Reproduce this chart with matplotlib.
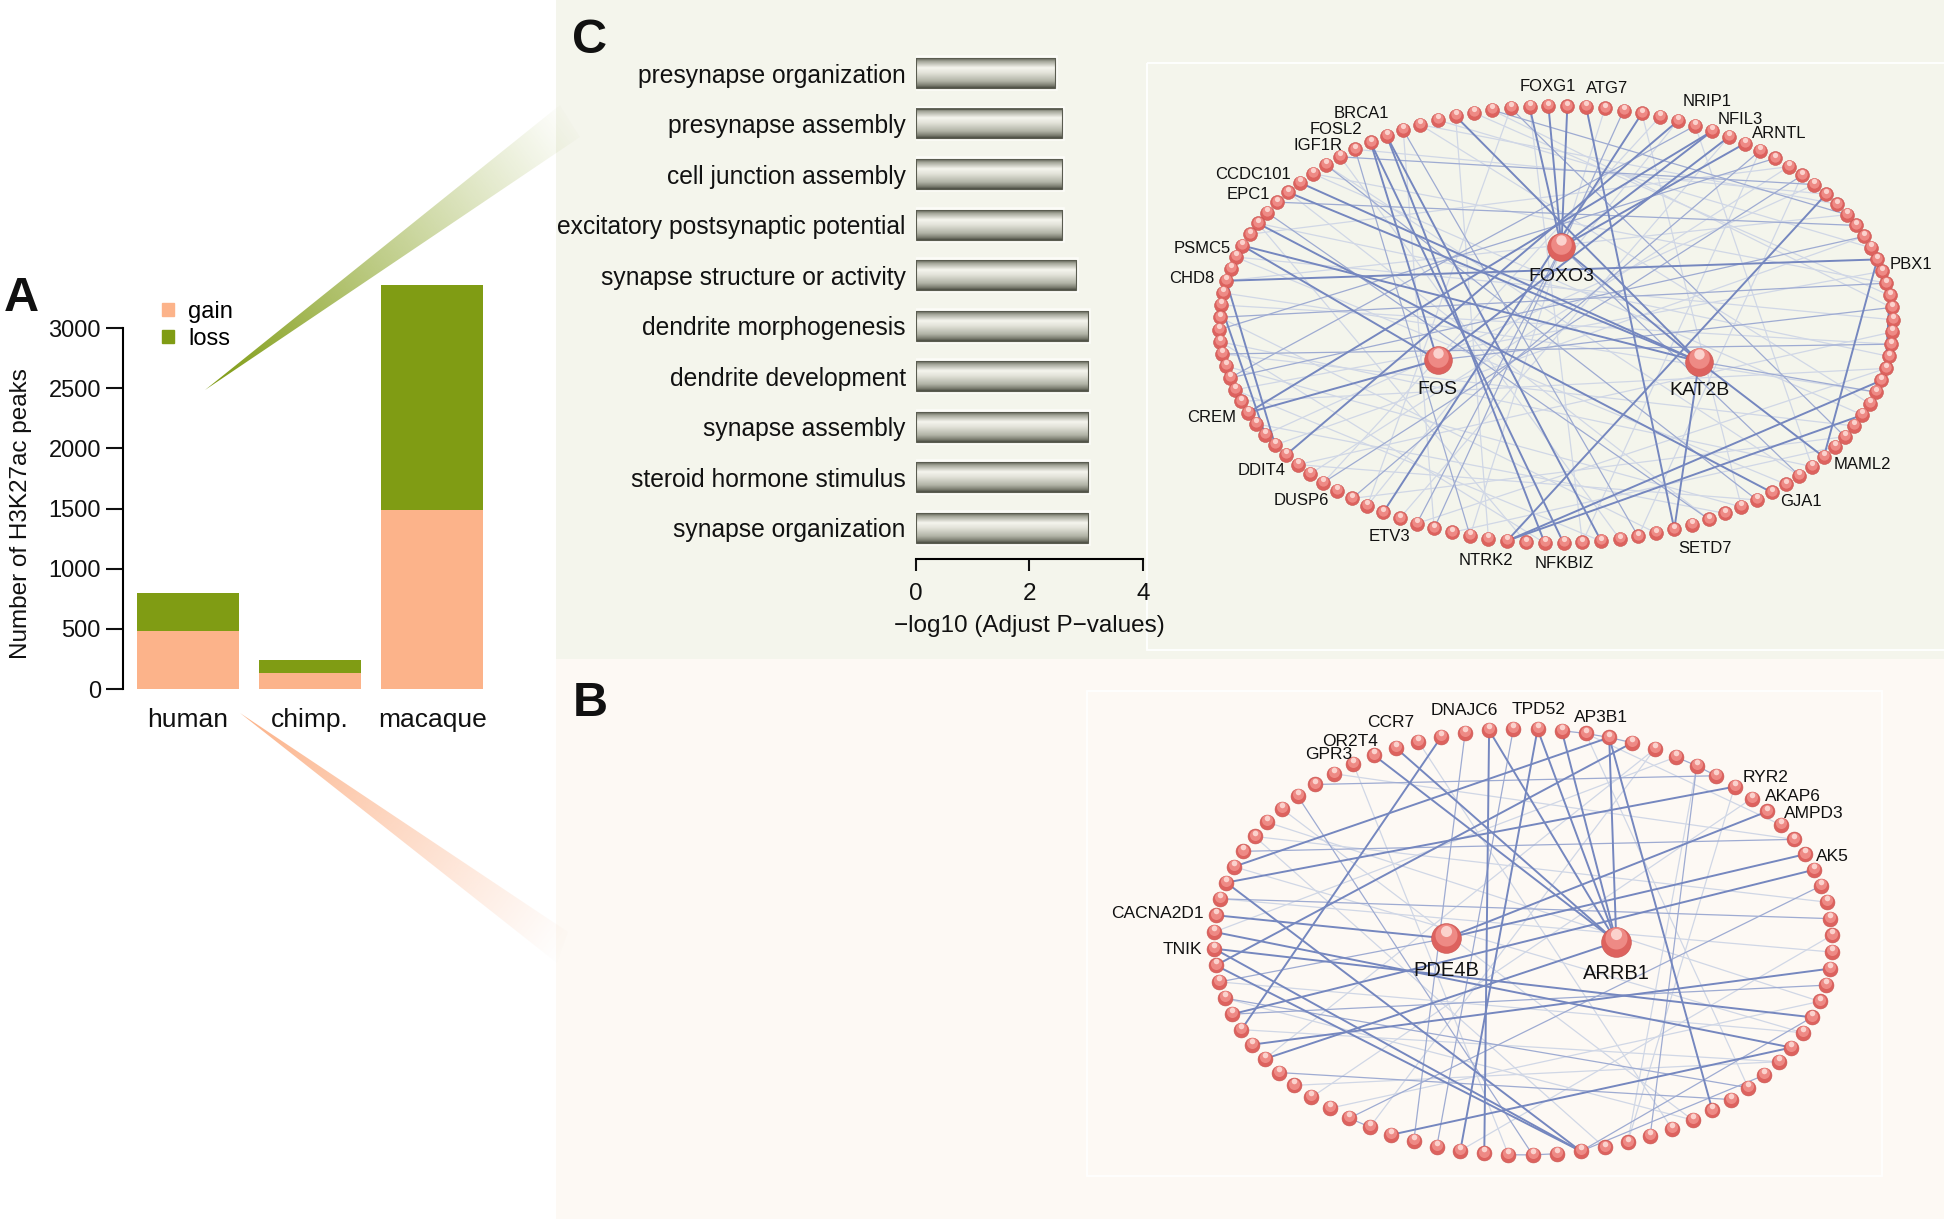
"""Composite figure: H3K27ac peak counts, GO enrichment bars and two PPI networks."""

import numpy as np
import matplotlib

matplotlib.use("Agg")
import matplotlib.pyplot as plt
import matplotlib.transforms as mtransforms
from matplotlib.collections import LineCollection
from matplotlib.colors import LinearSegmentedColormap, to_rgb
from matplotlib.patches import Patch, Polygon, Rectangle

plt.rcParams["font.family"] = ["Liberation Sans", "DejaVu Sans"]

FIG_W, FIG_H = 1944, 1219

# ---- panel A: gained / lost H3K27ac peaks per species
SPECIES = ["human", "chimp.", "macaque"]
GAIN = [480, 130, 1490]
LOSS = [315, 110, 1870]

# ---- panel C (left): GO enrichment, -log10 adjusted p
GO_TERMS = [
    "presynapse organization",
    "presynapse assembly",
    "cell junction assembly",
    "excitatory postsynaptic potential",
    "synapse structure or activity",
    "dendrite morphogenesis",
    "dendrite development",
    "synapse assembly",
    "steroid hormone stimulus",
    "synapse organization",
]
GO_SCORES = [2.45, 2.57, 2.57, 2.57, 2.82, 3.03, 3.03, 3.03, 3.03, 3.03]

# ---- panel C (right): network around FOXO3 / FOS / KAT2B
C_RING = 112
C_HUBS = {"FOXO3": (0.016, 0.355), "FOS": (-0.352, -0.162), "KAT2B": (0.425, -0.169)}
C_LABELS = {
    "PBX1": 5, "ARNTL": 17, "NFIL3": 19, "NRIP1": 21, "ATG7": 25, "FOXG1": 28,
    "BRCA1": 35, "FOSL2": 37, "IGF1R": 38, "CCDC101": 43, "EPC1": 44,
    "PSMC5": 49, "CHD8": 52, "CREM": 63, "DDIT4": 67, "DUSP6": 71, "ETV3": 74,
    "NTRK2": 81, "NFKBIZ": 84, "SETD7": 90, "GJA1": 96, "MAML2": 100,
}
C_STRONG = [
    (52, 5), (44, "KAT2B"), (43, "KAT2B"), (49, "FOS"), (49, "KAT2B"), (38, "FOS"),
    (63, "FOS"), (63, 19), (67, 21), ("FOXO3", 27), ("FOXO3", 28), ("FOXO3", 29),
    ("FOXO3", 19), ("FOXO3", 17), ("FOXO3", "KAT2B"), (11, 81), (81, 107), (81, 104),
    ("KAT2B", 100), ("KAT2B", 90), (33, "KAT2B"), (5, 100), (2, 108), (52, 66),
    (54, 65), (96, 47), (74, 23), (38, 84), (37, 83), (37, 86), (26, 90), ("FOS", 18),
]
C_MEDIUM = [
    (31, 9), (13, 70), (60, 7), (36, 88), (39, 79), (41, 95), (20, 60), (24, 77),
    (30, 102), (15, 56), (55, 3), (58, 110), (45, 8), (46, 92), (16, 72),
    ("FOXO3", 76), ("FOXO3", 98), ("FOS", 1), ("KAT2B", 106), (40, 12),
]
C_FAINT = [
    (34, 6), (35, 10), (32, 2), (42, 104), (47, 109), (50, 0), (53, 106), (57, 99),
    (59, 94), (61, 4), (62, 108), (64, 93), (65, 12), (68, 111), (69, 14), (70, 22),
    (72, 102), (73, 30), (75, 18), (76, 108), (77, 36), (78, 101), (79, 25), (80, 33),
    (82, 47), (83, 57), (85, 29), (86, 61), (87, 40), (88, 13), (89, 55), (92, 44),
    (94, 23), (95, 68), (97, 50), (98, 41), (99, 20), (103, 58), (105, 35), (110, 54),
    (1, 31), (3, 42), (7, 66), (9, 52), (11, 39), (14, 48), (16, 85), (21, 73),
]

# ---- panel B: network around PDE4B / ARRB1
B_RING = 80
B_HUBS = {"PDE4B": (-0.249, 0.017), "ARRB1": (0.302, 0.001)}
B_LABELS = {
    "AK5": 5, "AMPD3": 8, "AKAP6": 9, "RYR2": 10, "AP3B1": 16, "TPD52": 19,
    "DNAJC6": 21, "CCR7": 24, "OR2T4": 25, "GPR3": 26, "CACNA2D1": 38, "TNIK": 40,
}
B_STRONG = [
    (46, 78), (54, 73), (36, 10), (41, 15), ("PDE4B", 38), ("PDE4B", 5), ("PDE4B", 8),
    ("ARRB1", 26), ("ARRB1", 25), ("ARRB1", 21), ("ARRB1", 19), ("ARRB1", 18),
    ("ARRB1", 16), ("ARRB1", 47), (40, 75), (39, 73), (36, 62), (40, 62), (41, 62),
    (35, 16), (19, 57), (16, 68), (23, 45), (21, 58), (4, 44),
]
B_MEDIUM = [
    (37, 1), (43, 70), (75, 62), (71, 62), (3, 52), (12, 65), (30, 60), (44, 77),
    (48, 69), (22, 55), (20, 56), (11, 29), (34, 6), ("PDE4B", 42),
    (15, 16), (16, 17), (17, 18), (11, 12), (12, 13), (59, 60), (60, 61), (52, 53),
]
B_FAINT = [
    (28, 6), (31, 67), (33, 2), (37, 79), (39, 13), (42, 74), (45, 72), (50, 9),
    (51, 76), (53, 14), (57, 0), (59, 27), (63, 33), (64, 12), (66, 24), (67, 43),
    (70, 17), (72, 49), (74, 35), (76, 32), (14, 47), (17, 7), (10, 64),
]

# hand nudges (points) for crowded gene labels
LABEL_NUDGE = {
    "PBX1": (0, -6), "EPC1": (-6, -7), "PSMC5": (0, -5.5), "DDIT4": (7, -6),
    "ETV3": (24, -10), "NTRK2": (-14, 0), "BRCA1": (-19, 0), "FOSL2": (-13, -3.6),
    "IGF1R": (-15, -10),
    "AK5": (0, -5), "AMPD3": (5, -7), "AKAP6": (3, -4.5), "AP3B1": (-28, 0),
    "DNAJC6": (-16.5, 0), "OR2T4": (-9.5, -3.6), "GPR3": (-11.5, -7.6),
}

GAIN_COLOR = "#fcb38a"
LOSS_COLOR = "#809c14"
INK = "#111111"
EDGE_STYLES = [("#d0d7e6", 0.9), ("#9eabd2", 0.9), ("#7587bf", 1.4)]


def px_axes(fig, left, top, right, bottom, **kw):
    """Add axes given a pixel box measured from the top-left corner."""
    rect = [left / FIG_W, 1 - bottom / FIG_H, (right - left) / FIG_W, (bottom - top) / FIG_H]
    return fig.add_axes(rect, **kw)


def fading_wedge(ax, corners, color, power=1.0):
    """Triangle that is solid at its first corner and fades toward the far edge."""
    pts = np.asarray(corners, float)
    tip, far = pts[0], pts[1:].mean(axis=0)
    (x0, y0), (x1, y1) = pts.min(axis=0), pts.max(axis=0)
    gx, gy = np.meshgrid(np.linspace(x0, x1, 300), np.linspace(y0, y1, 300))
    d = far - tip
    prog = ((gx - tip[0]) * d[0] + (gy - tip[1]) * d[1]) / d.dot(d)
    rgba = np.empty(gx.shape + (4,))
    rgba[..., :3] = to_rgb(color)
    rgba[..., 3] = np.clip(1.02 - prog, 0, 1) ** power
    patch = Polygon(pts, closed=True, fc="none", ec="none")
    ax.add_patch(patch)
    im = ax.imshow(rgba, extent=(x0, x1, y1, y0), origin="upper", aspect="auto",
                   interpolation="bilinear", zorder=2)
    im.set_clip_path(patch)


def glossy_nodes(ax, x, y, s, z=4):
    d = np.sqrt(s)
    ax.scatter(x, y, s=s, color="#dd625e", edgecolors="#c85450", linewidths=0.4, zorder=z)
    tr = mtransforms.offset_copy(ax.transData, fig=ax.figure, x=0, y=0.12 * d, units="points")
    ax.scatter(x, y, s=s * 0.55, color="#ee8a85", linewidths=0, transform=tr, zorder=z + 0.1)
    tr2 = mtransforms.offset_copy(ax.transData, fig=ax.figure, x=0, y=0.26 * d, units="points")
    ax.scatter(x, y, s=s * 0.14, color="#fbd2cd", linewidths=0, transform=tr2, zorder=z + 0.2)


def draw_network(ax, n, hubs, labels, edge_lists, fs_small, fs_hub, node_s, hub_s, hub_pad):
    t = 2 * np.pi * (np.arange(n) + 0.4) / n
    ring = np.column_stack([np.cos(t), np.sin(t)])

    def pos(key):
        return np.asarray(hubs[key]) if isinstance(key, str) else ring[key]

    for edges, (color, lw) in zip(edge_lists, EDGE_STYLES):
        segs = [[pos(a), pos(b)] for a, b in edges]
        ax.add_collection(LineCollection(segs, colors=color, linewidths=lw, zorder=2))

    glossy_nodes(ax, ring[:, 0], ring[:, 1], node_s)
    hub_xy = np.array(list(hubs.values()))
    glossy_nodes(ax, hub_xy[:, 0], hub_xy[:, 1], hub_s, z=5)

    for name, k in labels.items():
        c, s = ring[k]
        ha = "left" if c > 0.25 else ("right" if c < -0.25 else "center")
        va = "bottom" if s > 0.93 else ("top" if s < -0.93 else "center")
        dx, dy = LABEL_NUDGE.get(name, (0, 0))
        ax.annotate(name, ring[k], xytext=(9 * c + dx, 9 * s + dy), textcoords="offset points",
                    ha=ha, va=va, fontsize=fs_small, color=INK, zorder=6)
    for name, xy in hubs.items():
        ax.annotate(name, xy, xytext=(0, -hub_pad), textcoords="offset points",
                    ha="center", va="top", fontsize=fs_hub, color=INK, zorder=6)


fig = plt.figure(figsize=(FIG_W / 100, FIG_H / 100), dpi=100)

# ---- canvas for panel backgrounds, connector wedges and letters
bg = fig.add_axes([0, 0, 1, 1], zorder=0)
bg.set_xlim(0, FIG_W)
bg.set_ylim(FIG_H, 0)
bg.axis("off")
bg.add_patch(Rectangle((556, 0), FIG_W - 556, 659, color="#f4f5ec", lw=0, zorder=1))
bg.add_patch(Rectangle((556, 659), FIG_W - 556, FIG_H - 659, color="#fdf9f4", lw=0, zorder=1))
bg.add_patch(Rectangle((1147, 63), 810, 587, fill=False, ec="white", lw=1.3, zorder=1.5))
bg.add_patch(Rectangle((1087, 691), 795, 485, fill=False, ec="white", lw=1.3, zorder=1.5))
fading_wedge(bg, [(205, 390), (560, 105), (580, 137)], LOSS_COLOR, power=1.1)
fading_wedge(bg, [(240, 713), (568, 932), (557, 963)], GAIN_COLOR, power=1.1)
bg.set_xlim(0, FIG_W)
bg.set_ylim(FIG_H, 0)
for letter, x, y in [("A", 4, 311), ("C", 572, 53), ("B", 573, 716)]:
    bg.text(x, y, letter, fontsize=35, fontweight="bold", ha="left", va="baseline",
            color=INK, zorder=3)

# ---- panel A
axa = px_axes(fig, 123.2, 280, 487, 689, zorder=2)
axa.set_facecolor("none")
xs = np.arange(len(SPECIES))
axa.bar(xs, GAIN, width=0.83, color=GAIN_COLOR, label="gain")
axa.bar(xs, LOSS, bottom=GAIN, width=0.83, color=LOSS_COLOR, label="loss")
axa.set_xlim(-0.532, 2.45)
axa.set_ylim(0, 3400)
for side in ("top", "right", "bottom"):
    axa.spines[side].set_visible(False)
axa.spines["left"].set_bounds(0, 3000)
axa.spines["left"].set_linewidth(1.5)
axa.set_yticks(range(0, 3001, 500))
axa.tick_params(axis="y", length=12.5, width=1.5, pad=3.5, labelsize=17, colors=INK)
axa.set_xticks(xs)
axa.set_xticklabels(SPECIES)
axa.tick_params(axis="x", length=0, pad=14, labelsize=19, colors=INK)
axa.set_ylabel("Number of H3K27ac peaks", fontsize=17.5, color=INK)
axa.yaxis.label.set_verticalalignment("center")
axa.yaxis.set_label_coords((21 - 123.2) / 363.8, 0.428)
axa.legend(
    handles=[Patch(color=GAIN_COLOR, label="gain"), Patch(color=LOSS_COLOR, label="loss")],
    loc="upper left", bbox_to_anchor=(162 / FIG_W, 1 - 301 / FIG_H),
    bbox_transform=fig.transFigure, frameon=False, fontsize=17,
    handlelength=0.5, handleheight=0.5, handletextpad=0.6, labelspacing=0.2,
    borderpad=0, borderaxespad=0,
)

# ---- panel C: GO bars with a metallic cylinder fill
axc = px_axes(fig, 915.5, 42.9, 1142.9, 559.4, zorder=2)
axc.set_facecolor("none")
bar_cmap = LinearSegmentedColormap.from_list(
    "metal",
    [(0.0, "#5f6156"), (0.1, "#a3a598"), (0.32, "#f5f5ee"), (0.5, "#e2e2d8"),
     (0.78, "#b0b2a5"), (0.92, "#7c7e71"), (1.0, "#4c4e44")],
)
ys = np.arange(len(GO_TERMS))
bar_h = 0.585
axc.barh(ys, GO_SCORES, height=bar_h, color="white", edgecolor="#fcfcf8", lw=4, zorder=1)
grad = np.linspace(0, 1, 64).reshape(-1, 1)
for y, v in zip(ys, GO_SCORES):
    axc.imshow(grad, cmap=bar_cmap, aspect="auto", origin="upper", interpolation="bilinear",
               extent=(0, v, y + bar_h / 2, y - bar_h / 2), zorder=2)
axc.barh(ys, GO_SCORES, height=bar_h, fill=False, edgecolor="#5a5c50", lw=0.8, zorder=3)
axc.set_xlim(0, 4)
axc.set_ylim(len(GO_TERMS) - 1 + 0.626, -0.6)
for side in ("top", "right", "left"):
    axc.spines[side].set_visible(False)
axc.spines["bottom"].set_bounds(0, 4)
axc.spines["bottom"].set_linewidth(1.5)
axc.set_xticks([0, 2, 4])
axc.tick_params(axis="x", length=8.6, width=1.5, pad=8.5, labelsize=17.5, colors=INK)
axc.set_yticks(ys)
axc.set_yticklabels(GO_TERMS)
axc.tick_params(axis="y", length=0, pad=7, labelsize=17.7, colors=INK)
axc.set_xlabel("\u2212log10 (Adjust P\u2212values)", fontsize=17.5, color=INK, labelpad=7)

# ---- panel C network
axn = px_axes(fig, 1147, 63, 1944, 650, zorder=2)
axn.set_facecolor("none")
axn.axis("off")
draw_network(axn, C_RING, C_HUBS, C_LABELS, [C_FAINT, C_MEDIUM, C_STRONG],
             fs_small=12, fs_hub=14, node_s=100, hub_s=400, hub_pad=15)
axn.set_xlim(-1.2151, 1.1527)
axn.set_ylim(-1.4892, 1.1973)

# ---- panel B network
axb = px_axes(fig, 1087, 691, 1882, 1176, zorder=2)
axb.set_facecolor("none")
axb.axis("off")
draw_network(axb, B_RING, B_HUBS, B_LABELS, [B_FAINT, B_MEDIUM, B_STRONG],
             fs_small=12.5, fs_hub=14.5, node_s=115, hub_s=460, hub_pad=16)
axb.set_xlim(-1.411, 1.1618)
axb.set_ylim(-1.0986, 1.1784)

fig.savefig("out.png", dpi=100)
plt.close(fig)
